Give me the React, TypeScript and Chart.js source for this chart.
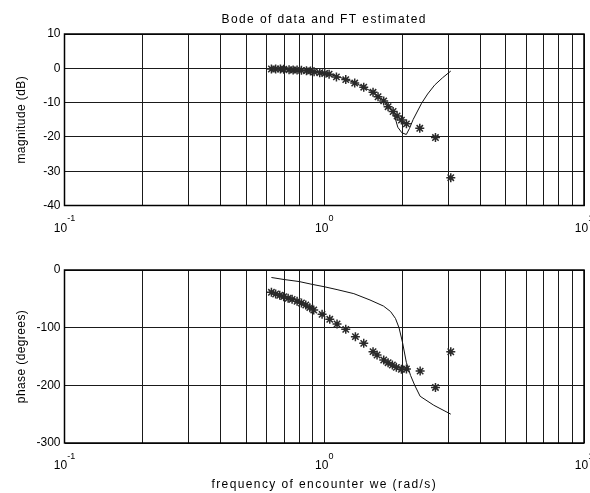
import React, { useEffect, useRef } from "react";
import { Chart, registerables } from "chart.js";
Chart.register(...registerables);

// ---------- data ----------
const magFreq = [0.626, 0.65, 0.678, 0.698, 0.732, 0.759, 0.786, 0.817, 0.854, 0.885, 0.914, 0.961, 1.004, 1.044, 1.114, 1.21, 1.31, 1.419, 1.541, 1.611, 1.694, 1.761, 1.841, 1.907, 1.982, 2.072, 2.332, 2.68, 3.07];
const magDb = [-0.2, -0.2, -0.2, -0.3, -0.4, -0.5, -0.5, -0.6, -0.7, -0.8, -1.0, -1.3, -1.5, -1.7, -2.5, -3.3, -4.3, -5.5, -7.0, -8.3, -9.5, -11.2, -12.6, -13.9, -15.1, -16.2, -17.5, -20.2, -31.9];

const magFitFreq = [0.626, 0.7, 0.8, 0.9, 1.0, 1.1, 1.2, 1.3, 1.4, 1.5, 1.6, 1.7, 1.78, 1.85, 1.92, 1.99, 2.07, 2.13, 2.2, 2.37, 2.5, 2.66, 2.85, 3.07];
const magFitDb = [0.0, -0.2, -0.5, -0.9, -1.4, -2.2, -3.1, -4.1, -5.3, -6.5, -7.9, -9.6, -11.0, -13.0, -17.2, -18.8, -19.3, -17.5, -14.9, -10.2, -7.5, -4.9, -2.8, -0.8];

const phaseFreq = [0.626, 0.65, 0.674, 0.698, 0.726, 0.752, 0.786, 0.817, 0.849, 0.88, 0.911, 0.981, 1.05, 1.12, 1.21, 1.318, 1.419, 1.541, 1.597, 1.694, 1.761, 1.829, 1.895, 1.982, 2.072, 2.34, 2.68, 3.07];
const phaseDeg = [-38.7, -41.6, -43.9, -46.2, -49.1, -50.9, -54.3, -57.2, -60.7, -65.3, -69.4, -76.9, -85.5, -93.6, -102.9, -115.6, -127.2, -141.6, -147.4, -156.1, -160.7, -164.7, -168.8, -172.2, -171.7, -175.3, -203.7, -141.8];

const phaseFitFreq = [0.626, 0.7, 0.8, 0.9, 1.0, 1.12, 1.3, 1.5, 1.69, 1.8, 1.88, 1.94, 2.0, 2.07, 2.15, 2.23, 2.34, 2.64, 3.07];
const phaseFitDeg = [-13, -16.5, -20, -25, -29, -34, -41, -52, -62.5, -72, -84, -100, -125, -160, -183, -200, -219, -234.5, -250];

const xGridValues = [0.1, 0.2, 0.3, 0.4, 0.5, 0.6, 0.7, 0.8, 0.9, 1, 2, 3, 4, 5, 6, 7, 8, 9, 10];
const xLabelExponents = [-1, 0, 1];

const chartTitle = "Bode of data and FT estimated";
const magLabel = "magnitude (dB)";
const phaseLabel = "phase (degrees)";
const freqLabel = "frequency of encounter we (rad/s)";

const FONT = '"Liberation Sans", Arial, Helvetica, sans-serif';

type PlotOpts = {
  title?: string;
  yTitle: string;
  xTitle?: string;
  xLabelBaseline: number;
  xTitleBaseline?: number;
};

function textPlugin(o: PlotOpts) {
  return {
    id: "matlabText",
    afterDraw(chart: any) {
      const ctx = chart.ctx as any;
      const a = chart.chartArea;
      const xs = chart.scales.x;
      ctx.save();
      ctx.strokeStyle = "#000";
      ctx.lineWidth = 1.5;
      ctx.strokeRect(a.left, a.top, a.right - a.left, a.bottom - a.top);
      ctx.fillStyle = "#000";
      ctx.textAlign = "left";
      ctx.textBaseline = "alphabetic";
      for (const e of xLabelExponents) {
        const px = xs.getPixelForValue(Math.pow(10, e));
        ctx.font = `12px ${FONT}`;
        const bw = ctx.measureText("10").width;
        ctx.font = `9px ${FONT}`;
        const sup = String(e);
        const sw = ctx.measureText(sup).width;
        const start = px - (bw + sw) / 2;
        ctx.font = `12px ${FONT}`;
        ctx.fillText("10", start, a.bottom + o.xLabelBaseline);
        ctx.font = `9px ${FONT}`;
        ctx.fillText(sup, start + bw, a.bottom + o.xLabelBaseline - 10.5);
      }
      ctx.font = `12px ${FONT}`;
      ctx.textAlign = "center";
      ctx.textBaseline = "alphabetic";
      const cx = (a.left + a.right) / 2;
      ctx.letterSpacing = "1.4px";
      if (o.title) ctx.fillText(o.title, cx, 23);
      if (o.xTitle && o.xTitleBaseline) ctx.fillText(o.xTitle, cx, o.xTitleBaseline);
      ctx.letterSpacing = "0.4px";
      ctx.textBaseline = "middle";
      ctx.translate(22, (a.top + a.bottom) / 2);
      ctx.rotate(-Math.PI / 2);
      ctx.fillText(o.yTitle, 0, 0);
      ctx.restore();
    },
  };
}

function makeConfig(
  stars: { x: number; y: number }[],
  fit: { x: number; y: number }[],
  yMin: number,
  yMax: number,
  yStep: number,
  padding: any,
  plot: PlotOpts
): any {
  return {
    type: "scatter",
    data: {
      datasets: [
        {
          data: stars,
          showLine: false,
          pointStyle: "star",
          pointRadius: 4.5,
          pointBorderColor: "#2a2a2a",
          pointBackgroundColor: "#2a2a2a",
          pointBorderWidth: 1.5,
        },
        {
          data: fit,
          showLine: true,
          borderColor: "#111",
          borderWidth: 1,
          pointRadius: 0,
          tension: 0,
        },
      ],
    },
    options: {
      responsive: false,
      animation: false,
      devicePixelRatio: 1,
      layout: { padding },
      plugins: { legend: { display: false }, tooltip: { enabled: false }, title: { display: false } },
      scales: {
        x: {
          type: "logarithmic",
          min: 0.1,
          max: 10,
          afterBuildTicks: (s: any) => {
            s.ticks = xGridValues.map((v) => ({ value: v }));
          },
          afterFit: (s: any) => {
            s.height = 0;
          },
          ticks: { display: false },
          grid: { color: "#1a1a1a", lineWidth: 1, drawTicks: false },
          border: { display: false },
        },
        y: {
          min: yMin,
          max: yMax,
          afterFit: (s: any) => {
            s.width = 64.5;
          },
          ticks: {
            stepSize: yStep,
            padding: 4,
            color: "#000",
            font: { family: FONT, size: 12 },
          },
          grid: { color: "#1a1a1a", lineWidth: 1, drawTicks: false },
          border: { display: false },
        },
      },
    },
    plugins: [textPlugin(plot)],
  };
}

export default function App() {
  const topRef = useRef<HTMLCanvasElement>(null);
  const botRef = useRef<HTMLCanvasElement>(null);

  useEffect(() => {
    const magStars = magFreq.map((f, i) => ({ x: f, y: magDb[i] }));
    const magFit = magFitFreq.map((f, i) => ({ x: f, y: magFitDb[i] }));
    const phStars = phaseFreq.map((f, i) => ({ x: f, y: phaseDeg[i] }));
    const phFit = phaseFitFreq.map((f, i) => ({ x: f, y: phaseFitDeg[i] }));

    const top = new Chart(
      topRef.current as HTMLCanvasElement,
      makeConfig(magStars, magFit, -40, 10, 10, { top: 34, right: 6, bottom: 39.5, left: 0 }, {
        title: chartTitle,
        yTitle: magLabel,
        xLabelBaseline: 26,
      })
    );
    const bot = new Chart(
      botRef.current as HTMLCanvasElement,
      makeConfig(phStars, phFit, -300, 0, 100, { top: 25, right: 6, bottom: 50, left: 0 }, {
        yTitle: phaseLabel,
        xTitle: freqLabel,
        xLabelBaseline: 26,
        xTitleBaseline: 242.5,
      })
    );
    return () => {
      top.destroy();
      bot.destroy();
    };
  }, []);

  return (
    <div style={{ position: "absolute", left: 0, top: 0, width: 590, height: 493, background: "#fff" }}>
      <canvas ref={topRef} width={590} height={245} style={{ position: "absolute", left: 0, top: 0, width: 590, height: 245 }} />
      <canvas ref={botRef} width={590} height={248} style={{ position: "absolute", left: 0, top: 245, width: 590, height: 248 }} />
    </div>
  );
}
